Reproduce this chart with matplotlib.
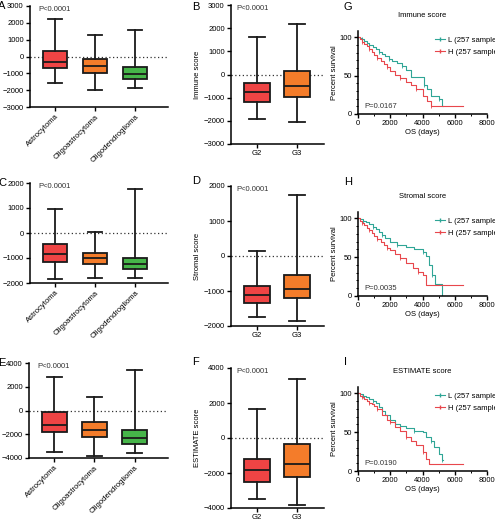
import numpy as np
import matplotlib.pyplot as plt
from matplotlib.lines import Line2D
from matplotlib.ticker import MultipleLocator

plt.rcParams['font.family'] = ['Liberation Sans', 'DejaVu Sans']

histology = ['Astrocytoma', 'Oligoastrocytoma', 'Oligodendroglioma']
grades = ['G2', 'G3']

# five-number summaries per group: whisker low, Q1, median, Q3, whisker high
immune_hist = [[-1600, -700, -300, 300, 2200],
               [-2000, -1000, -550, -150, 1250],
               [-1900, -1350, -1050, -650, 1600]]
immune_grade = [[-1900, -1200, -750, -350, 1600],
                [-2050, -950, -500, 150, 2200]]
stromal_hist = [[-1850, -1150, -850, -450, 950],
                [-1800, -1250, -1000, -800, 50],
                [-1800, -1450, -1250, -1000, 1750]]
stromal_grade = [[-1750, -1350, -1100, -850, 150],
                 [-1850, -1200, -950, -550, 1750]]
estimate_hist = [[-3500, -1850, -1200, -100, 2800],
                 [-3850, -2250, -1600, -950, 1150],
                 [-3550, -2850, -2300, -1650, 3400]]
estimate_grade = [[-3500, -2500, -1800, -1200, 1650],
                  [-3800, -2200, -1500, -350, 3400]]

# Kaplan-Meier curves (days, percent survival), L = low score, H = high score
immune_L_t = [0, 100, 250, 400, 550, 700, 900, 1100, 1300, 1500, 1700, 1900, 2100, 2400, 2700, 3000, 3300, 4100, 4300, 4500, 5000, 5200, 5300]
immune_L_s = [100, 99, 97, 95, 93, 90, 87, 84, 81, 78, 75, 72, 69, 66, 62, 57, 48, 38, 33, 23, 20, 11, 11]
immune_H_t = [0, 100, 250, 400, 550, 700, 850, 1000, 1200, 1400, 1600, 1800, 2000, 2300, 2600, 3000, 3300, 3600, 4000, 4300, 4500, 6500]
immune_H_s = [100, 97, 94, 91, 88, 85, 81, 77, 73, 69, 65, 61, 56, 51, 47, 42, 38, 33, 24, 17, 11, 11]
stromal_L_t = [0, 150, 300, 500, 700, 900, 1100, 1300, 1500, 1700, 2000, 2400, 3000, 3500, 4000, 4200, 4400, 4600, 4800, 5200, 5200]
stromal_L_s = [100, 99, 97, 95, 92, 89, 86, 82, 78, 74, 69, 66, 63, 60, 56, 52, 40, 27, 16, 16, 0]
stromal_H_t = [0, 100, 250, 400, 550, 700, 850, 1000, 1200, 1400, 1600, 1800, 2000, 2300, 2600, 3000, 3400, 3700, 4000, 4200, 6500]
stromal_H_s = [100, 97, 94, 91, 88, 85, 81, 77, 73, 69, 65, 62, 59, 54, 49, 42, 36, 31, 27, 14, 14]
estimate_L_t = [0, 150, 300, 500, 700, 900, 1100, 1300, 1500, 1700, 2000, 2300, 2600, 3000, 3500, 4000, 4200, 4500, 4700, 5000, 5200, 5300]
estimate_L_s = [100, 99, 97, 95, 93, 90, 87, 82, 77, 72, 65, 61, 58, 55, 52, 50, 44, 38, 31, 22, 14, 14]
estimate_H_t = [0, 100, 250, 400, 550, 700, 850, 1000, 1200, 1500, 1800, 2000, 2300, 2600, 3000, 3300, 3600, 4000, 4200, 4400, 6500]
estimate_H_s = [100, 97, 95, 92, 90, 88, 86, 84, 80, 72, 66, 63, 57, 51, 44, 39, 33, 25, 16, 9, 9]

box_colors = ['#ef4444', '#f47c2a', '#46b549']
teal = '#2fa596'
red = '#e8474c'

W, H = 495, 521
fig = plt.figure(figsize=(W / 100, H / 100), dpi=100)


def px_axes(left, right, top, bottom):
    return fig.add_axes([left / W, 1 - bottom / H, (right - left) / W, (bottom - top) / H])


def style(ax):
    for s in ['top', 'right']:
        ax.spines[s].set_visible(False)
    for s in ['left', 'bottom']:
        ax.spines[s].set_linewidth(1.1)
    ax.tick_params(labelsize=5.5, width=1, length=3, pad=1.5)


def box_panel(rect, stats, labels, ylim, ystep, ylabel, letter, letter_xy, xlim, width, rotate):
    ax = px_axes(*rect)
    pos = np.arange(1, len(stats) + 1)
    st = [dict(whislo=s[0], q1=s[1], med=s[2], q3=s[3], whishi=s[4], fliers=[]) for s in stats]
    bp = ax.bxp(st, positions=pos, widths=width, capwidths=width * 0.6, patch_artist=True,
                showfliers=False,
                boxprops=dict(linewidth=1.3, edgecolor='#1a1a1a'),
                whiskerprops=dict(linewidth=1.3, color='#1a1a1a'),
                capprops=dict(linewidth=1.3, color='#1a1a1a'),
                medianprops=dict(linewidth=1.3, color='#1a1a1a'))
    for patch, c in zip(bp['boxes'], box_colors):
        patch.set_facecolor(c)
    ax.axhline(0, ls=(0, (1, 2)), color='#333333', lw=0.9, zorder=0)
    ax.set_xlim(*xlim)
    ax.set_ylim(*ylim)
    ax.set_yticks(np.arange(ylim[0], ylim[1] + 1, ystep))
    ax.set_xticks(pos)
    style(ax)
    if rotate:
        ax.set_xticklabels(labels, rotation=45, ha='right', rotation_mode='anchor')
    else:
        ax.set_xticklabels(labels)
    ax.set_ylabel(ylabel, fontsize=5.5, labelpad=2)
    ax.text(0.06, 1.0, 'P<0.0001', transform=ax.transAxes, fontsize=5.5, va='top', color='#333333')
    fig.text(letter_xy[0] / W, 1 - letter_xy[1] / H, letter, fontsize=8, va='center', ha='left')
    return ax


def km_panel(rect, curves, title, pval, letter, letter_xy):
    ax = px_axes(*rect)
    for t, s, c in curves:
        ax.step(t, s, where='post', color=c, lw=0.8)
        cens = t[2:-1:3]
        cs = [s[i] for i in range(2, len(t) - 1, 3)]
        ax.plot(cens, cs, ls='none', marker='|', markersize=2.5, color=c, mew=0.6)
    ax.set_xlim(0, 8000)
    ax.set_ylim(0, 108)
    ax.set_xticks([0, 2000, 4000, 6000, 8000])
    ax.set_yticks([0, 50, 100])
    ax.xaxis.set_minor_locator(MultipleLocator(1000))
    ax.yaxis.set_minor_locator(MultipleLocator(10))
    style(ax)
    ax.tick_params(which='minor', length=1.5, width=0.7)
    ax.set_xlabel('OS (days)', fontsize=5.5, labelpad=1)
    ax.set_ylabel('Percent survival', fontsize=5.5, labelpad=1)
    ax.set_title(title, fontsize=5.5, pad=10)
    ax.text(0.05, 0.07, pval, transform=ax.transAxes, fontsize=5.5, color='#333333')
    handles = [Line2D([], [], color=teal, lw=0.8, marker='|', markersize=3),
               Line2D([], [], color=red, lw=0.8, marker='|', markersize=3)]
    ax.legend(handles, ['L (257 samples)', 'H (257 samples)'], loc='upper left',
              bbox_to_anchor=(0.57, 0.97), frameon=False, fontsize=5.5,
              handlelength=1.4, handletextpad=0.3, labelspacing=0.6, borderaxespad=0)
    fig.text(letter_xy[0] / W, 1 - letter_xy[1] / H, letter, fontsize=8, va='center', ha='left')
    return ax


hist_xlim = (0.375, 3.825)
grade_xlim = (0.35, 2.675)

box_panel((30, 168, 6, 107), immune_hist, histology, (-3000, 3000), 1000, 'Immune score', 'A', (-2, 6), hist_xlim, 0.62, True)
box_panel((231, 324, 5, 144), immune_grade, grades, (-3000, 3000), 1000, 'Immune score', 'B', (192, 7), grade_xlim, 0.65, False)
box_panel((30, 168, 183, 283), stromal_hist, histology, (-2000, 2000), 1000, 'Stromal score', 'C', (-2, 183), hist_xlim, 0.62, True)
box_panel((231, 324, 186, 326), stromal_grade, grades, (-2000, 2000), 1000, 'Stromal score', 'D', (192, 181), grade_xlim, 0.65, False)
box_panel((29, 168, 363, 458), estimate_hist, histology, (-4000, 4000), 2000, 'ESTIMATE score', 'E', (-2, 363), hist_xlim, 0.62, True)
box_panel((231, 324, 368, 508), estimate_grade, grades, (-4000, 4000), 2000, 'ESTIMATE score', 'F', (192, 362), grade_xlim, 0.65, False)

km_panel((358, 487, 31, 114), [(immune_L_t, immune_L_s, teal), (immune_H_t, immune_H_s, red)], 'Immune score', 'P=0.0167', 'G', (344, 7))
km_panel((358, 487, 212, 296), [(stromal_L_t, stromal_L_s, teal), (stromal_H_t, stromal_H_s, red)], 'Stromal score', 'P=0.0035', 'H', (344, 182))
km_panel((358, 487, 387, 471), [(estimate_L_t, estimate_L_s, teal), (estimate_H_t, estimate_H_s, red)], 'ESTIMATE score', 'P=0.0190', 'I', (344, 362))

fig.savefig('out.png', dpi=100)
